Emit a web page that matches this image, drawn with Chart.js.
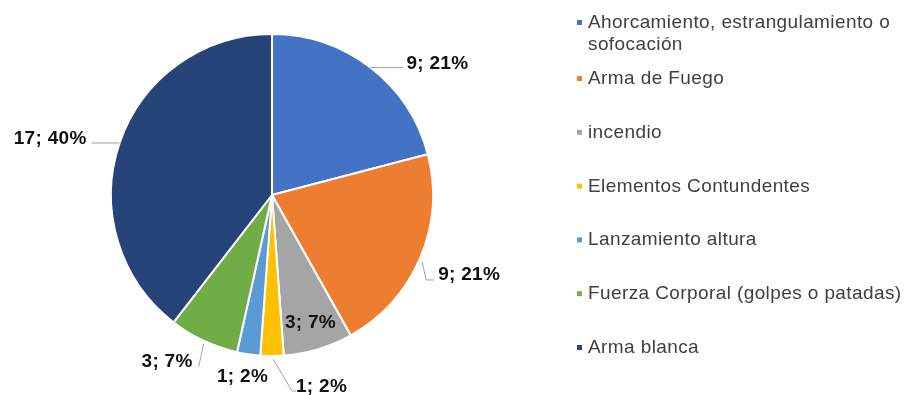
<!DOCTYPE html>
<html>
<head>
<meta charset="utf-8">
<script src="https://cdn.jsdelivr.net/npm/chart.js@4"></script>
<style>
    html, body { margin: 0; padding: 0; background: #ffffff; }
    #wrap { width: 910px; height: 395px; }
</style>
</head>
<body>
<div id="wrap"><canvas id="pieChart" width="910" height="395"></canvas></div>
<script>
// Categories and counts
const categories = [
    "Ahorcamiento, estrangulamiento o sofocación",
    "Arma de Fuego",
    "incendio",
    "Elementos Contundentes",
    "Lanzamiento altura",
    "Fuerza Corporal (golpes o patadas)",
    "Arma blanca"
];
const counts = [9, 9, 3, 1, 1, 3, 17];
const percents = [21, 21, 7, 2, 2, 7, 40];
const sliceColors = ["#4472C4", "#ED7D31", "#A5A5A5", "#FFC000", "#5B9BD5", "#70AD47", "#264478"];

// Legend lines (first entry wraps onto two lines)
const legendLines = [
    ["Ahorcamiento, estrangulamiento o", "sofocación"],
    ["Arma de Fuego"],
    ["incendio"],
    ["Elementos Contundentes"],
    ["Lanzamiento altura"],
    ["Fuerza Corporal (golpes o patadas)"],
    ["Arma blanca"]
];

// Where each value label sits relative to the slice's outer midpoint
// leader: list of offsets for the leader line, text: offset + alignment
const labelPlacement = [
    { leader: [[0, 0], [33, 0]], text: [36, 1], align: "left" },
    { leader: [[2, 4], [6, 22], [14, 22]], text: [18, 22], align: "left" },
    { inside: 0.83 },
    { leader: [[1, 3], [20, 35], [24, 35]], text: [24, 36], align: "left" },
    { leader: null, text: [-6, 28], align: "center" },
    { leader: [[0, 3], [-5, 26]], text: [-11, 26], align: "right" },
    { leader: [[0, 0], [-28, 0]], text: [-33, 1], align: "right" }
];

const valueLabels = {
    id: "valueLabels",
    afterDatasetsDraw(chart) {
        const ctx = chart.ctx;
        const meta = chart.getDatasetMeta(0);
        ctx.save();
        ctx.font = "bold 19px 'Liberation Sans', Arial, sans-serif";
        ctx.letterSpacing = "0.3px";
        meta.data.forEach((arc, i) => {
            const p = arc.getProps(["x", "y", "startAngle", "endAngle", "outerRadius"], true);
            const mid = (p.startAngle + p.endAngle) / 2;
            const ex = p.x + Math.cos(mid) * p.outerRadius;
            const ey = p.y + Math.sin(mid) * p.outerRadius;
            const place = labelPlacement[i];
            const text = counts[i] + "; " + percents[i] + "%";
            ctx.fillStyle = "#111111";
            if (place.inside) {
                const r = p.outerRadius * place.inside;
                ctx.textAlign = "center";
                ctx.textBaseline = "middle";
                ctx.fillText(text, p.x + Math.cos(mid) * r, p.y + Math.sin(mid) * r);
                return;
            }
            if (place.leader) {
                ctx.strokeStyle = "#A0A0A0";
                ctx.lineWidth = 1;
                ctx.beginPath();
                place.leader.forEach((pt, k) => {
                    const lx = ex + pt[0], ly = ey + pt[1];
                    if (k === 0) ctx.moveTo(lx, ly); else ctx.lineTo(lx, ly);
                });
                ctx.stroke();
            }
            ctx.textAlign = place.align;
            ctx.textBaseline = "alphabetic";
            ctx.fillText(text, ex + place.text[0], ey + place.text[1]);
        });
        ctx.restore();
    }
};

const sideLegend = {
    id: "sideLegend",
    afterDraw(chart) {
        const ctx = chart.ctx;
        ctx.save();
        ctx.font = "19px 'Liberation Sans', Arial, sans-serif";
        ctx.letterSpacing = "0.4px";
        ctx.textAlign = "left";
        ctx.textBaseline = "alphabetic";
        legendLines.forEach((lines, i) => {
            const base = i === 0 ? 28 : 84 + (i - 1) * 53.8;
            ctx.fillStyle = sliceColors[i];
            ctx.fillRect(577, base - 8, 5, 5);
            ctx.fillStyle = "#404040";
            lines.forEach((line, k) => {
                ctx.fillText(line, 588, base + k * 22);
            });
        });
        ctx.restore();
    }
};

new Chart(document.getElementById("pieChart"), {
    type: "pie",
    data: {
        labels: categories,
        datasets: [{
            data: counts,
            backgroundColor: sliceColors,
            borderColor: "#ffffff",
            borderWidth: 2
        }]
    },
    options: {
        responsive: false,
        devicePixelRatio: 1,
        animation: false,
        layout: { padding: { left: 110, right: 476, top: 33, bottom: 38 } },
        plugins: {
            legend: { display: false },
            tooltip: { enabled: false }
        }
    },
    plugins: [valueLabels, sideLegend]
});
</script>
</body>
</html>
